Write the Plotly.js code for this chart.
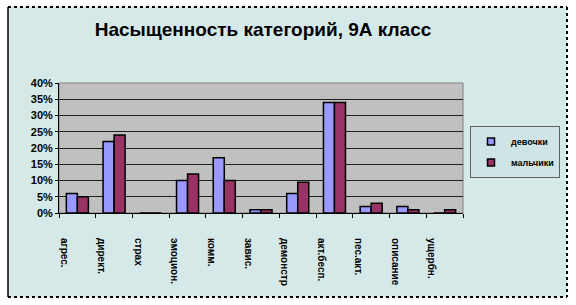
<!DOCTYPE html>
<html><head><meta charset="utf-8">
<script src="https://cdn.plot.ly/plotly-3.0.1.min.js"></script>
<style>html,body{margin:0;padding:0;background:#fff}#c{width:576px;height:305px}</style>
</head><body><div id="c"></div>
<script>
var categories = ["агрес.", "директ.", "страх", "эмоцион.", "комм.", "завис.", "демонстр", "акт.бесп.", "пес.акт.", "описание", "ущербн."];
var girls = [0.06, 0.22, 0, 0.10, 0.17, 0.01, 0.06, 0.34, 0.02, 0.02, 0];
var boys  = [0.05, 0.24, 0, 0.12, 0.10, 0.01, 0.095, 0.34, 0.03, 0.01, 0.01];
var seriesNames = ["девочки", "мальчики"];
var yTicks = [0, 0.05, 0.10, 0.15, 0.20, 0.25, 0.30, 0.35, 0.40];
var yTickText = ["0%", "5%", "10%", "15%", "20%", "25%", "30%", "35%", "40%"];

var W = 576, H = 305, L = 59, R = 113, T = 83, B = 92;
var pw = W - L - R, ph = H - T - B;
function px(x) { return (x - L) / pw; }
function py(y) { return (H - B - y) / ph; }

var fam = "Liberation Sans, Arial, sans-serif";
var line = {color: "#000", width: 1.5};
var colors = ["#9999ff", "#993366"];

var data = [
  {type: "bar", name: seriesNames[0], x: categories, y: girls, marker: {color: colors[0], line: line}, showlegend: false},
  {type: "bar", name: seriesNames[1], x: categories, y: boys, marker: {color: colors[1], line: line}, showlegend: false},
  {type: "scatter", mode: "markers", name: seriesNames[0], x: [null], y: [null], legendgroup: "a",
   marker: {symbol: "square", size: 7, color: colors[0], line: {color: "#000", width: 1.5}}},
  {type: "scatter", mode: "markers", name: seriesNames[1], x: [null], y: [null], legendgroup: "b",
   marker: {symbol: "square", size: 7, color: colors[1], line: {color: "#000", width: 1.5}}}
];

var layout = {
  width: W, height: H,
  margin: {l: L, r: R, t: T, b: B, pad: 0},
  paper_bgcolor: "#ffffff",
  plot_bgcolor: "rgba(0,0,0,0)",
  barmode: "group", bargap: 0.4, bargroupgap: 0,
  showlegend: true,
  title: {text: "Насыщенность категорий, 9А класс", font: {family: fam, size: 19, color: "#000", weight: 700},
          x: px(263), xanchor: "center", xref: "paper", y: 1 - 29 / H, yanchor: "middle"},
  xaxis: {
    type: "category", tickangle: 90, tickfont: {family: fam, size: 10, color: "#000", weight: 700},
    ticks: "outside", tickson: "boundaries", ticklen: 4, tickcolor: "#000", tickwidth: 1,
    ticklabelshift: -13, ticklabelstandoff: 22,
    showline: true, linecolor: "#000", linewidth: 1, showgrid: false, zeroline: false, fixedrange: true
  },
  yaxis: {
    range: [0, 0.4], tickvals: yTicks, ticktext: yTickText,
    tickfont: {family: fam, size: 11, color: "#000", weight: 700},
    ticks: "outside", ticklen: 3, tickcolor: "#000",
    showline: true, linecolor: "#000", linewidth: 1,
    showgrid: true, gridcolor: "#202020", gridwidth: 1, zeroline: false, fixedrange: true
  },
  legend: {
    x: px(560), y: py(126), xanchor: "right", yanchor: "top",
    bgcolor: "#cfe5e5", bordercolor: "#606060", borderwidth: 1,
    font: {family: fam, size: 9, color: "#000", weight: 700},
    traceorder: "grouped", tracegroupgap: 2, itemwidth: 30
  },
  shapes: [
    {type: "rect", xref: "paper", yref: "paper", layer: "below",
     x0: px(8), x1: px(567), y0: py(297), y1: py(7), fillcolor: "#d6e9e9", line: {width: 0}},
    {type: "rect", xref: "paper", yref: "paper", layer: "below",
     x0: 0, x1: 1, y0: 0, y1: 1, fillcolor: "#c0c0c0", line: {color: "#808080", width: 1}},
    {type: "line", xref: "paper", yref: "paper", x0: px(8), x1: px(567), y0: py(7), y1: py(7), line: {color: "#000", width: 2, dash: "dot"}},
    {type: "line", xref: "paper", yref: "paper", x0: px(8), x1: px(567), y0: py(297), y1: py(297), line: {color: "#000", width: 2, dash: "dot"}},
    {type: "line", xref: "paper", yref: "paper", x0: px(567), x1: px(567), y0: py(7), y1: py(297), line: {color: "#000", width: 2, dash: "dot"}},
    {type: "line", xref: "paper", yref: "paper", x0: px(8), x1: px(8), y0: py(7), y1: py(297), line: {color: "#000", width: 1.5}}
  ]
};

Plotly.newPlot("c", data, layout, {displayModeBar: false, staticPlot: true});
</script>
</body></html>
